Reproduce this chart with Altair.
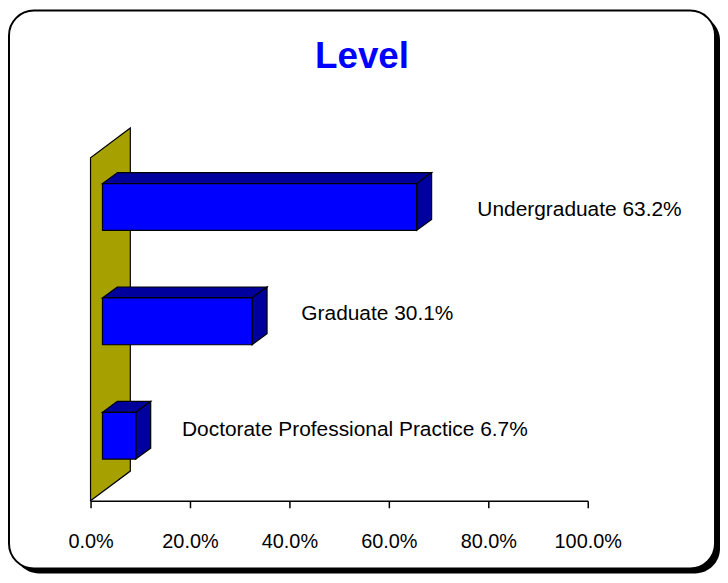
import altair as alt
import pandas as pd

# ---- data ----
categories = ["Undergraduate", "Graduate", "Doctorate Professional Practice"]
values = [63.2, 30.1, 6.7]
tick_values = [0, 20, 40, 60, 80, 100]
title_text = "Level"

# ---- style / 3-D geometry (scale units) ----
BAR_X0 = 2.4      # front face starts this far in front of the wall (in % units)
DEPTH_X = 3.0     # bar depth, horizontal (in % units)
DEPTH_Y = 0.096   # bar depth, vertical (in slot units)
BAR_LO = 0.365
BAR_HI = 0.774
WALL_DX = 8.0
WALL_DY = 0.26
FRONT = "#0000FF"
DARK = "#00009C"
OLIVE = "#A6A100"
FONT = "Liberation Sans"
LABEL_DX = [61, 49.5, 46.5]
LABEL_DY = [1.5, -9, -7.5]

N = len(categories)
slots = [N - 1 - i for i in range(N)]
W, H = 500, 391

xs = alt.Scale(domain=[0, 100], nice=False, zero=False)
ys = alt.Scale(domain=[0, 3.4], nice=False, zero=False)

x_axis = alt.Axis(
    values=tick_values,
    labelExpr="format(datum.value, '.1f') + '%'",
    grid=False, domainColor="black", tickColor="black", tickSize=7,
    domainWidth=1.5, tickWidth=1.5, labelFont=FONT, labelFontSize=20,
    labelColor="black", labelPadding=24, title="", zindex=1,
    labelFlush=False, labelOverlap=False)

front = pd.DataFrame({
    "cat": categories,
    "x": [BAR_X0] * N,
    "x2": [BAR_X0 + v for v in values],
    "y": [s + BAR_LO for s in slots],
    "y2": [s + BAR_HI for s in slots],
})

top_rows, side_rows = [], []
for c, v, s in zip(categories, values, slots):
    top_rows.append({"cat": c, "y": s + BAR_HI, "x": BAR_X0, "x2": BAR_X0 + v})
    top_rows.append({"cat": c, "y": s + BAR_HI + DEPTH_Y, "x": BAR_X0 + DEPTH_X, "x2": BAR_X0 + DEPTH_X + v})
    side_rows.append({"cat": c, "x": BAR_X0 + v, "y": s + BAR_LO, "y2": s + BAR_HI})
    side_rows.append({"cat": c, "x": BAR_X0 + v + DEPTH_X, "y": s + BAR_LO + DEPTH_Y, "y2": s + BAR_HI + DEPTH_Y})
top = pd.DataFrame(top_rows)
side = pd.DataFrame(side_rows)

wall = pd.DataFrame({"x": [0, WALL_DX], "y": [0, WALL_DY], "y2": [N, N + WALL_DY]})

labels = pd.DataFrame({
    "cat": categories,
    "label": [f"{c} {v:.1f}%" for c, v in zip(categories, values)],
    "x": [BAR_X0 + v for v in values],
    "y": [s + 0.5 for s in slots],
})

one = pd.DataFrame({"k": [0]})

shadow = alt.Chart(one).mark_rect(color="black", cornerRadius=25).encode(
    x=alt.value(-77), x2=alt.value(633), y=alt.value(-97), y2=alt.value(464))
frame = alt.Chart(one).mark_rect(fill="white", stroke="black", strokeWidth=2, cornerRadius=25).encode(
    x=alt.value(-82), x2=alt.value(628), y=alt.value(-102), y2=alt.value(459))

wall_layer = alt.Chart(wall).mark_area(orient="vertical", color=OLIVE, stroke="black", strokeWidth=1.2).encode(
    x=alt.X("x:Q", scale=xs, axis=x_axis),
    y=alt.Y("y:Q", scale=ys, axis=None),
    y2="y2:Q",
)

top_layer = alt.Chart(top).mark_area(orient="horizontal", color=DARK, stroke="black", strokeWidth=1.2).encode(
    y=alt.Y("y:Q", scale=ys, axis=None),
    x=alt.X("x:Q", scale=xs),
    x2="x2:Q",
    detail="cat:N",
)

side_layer = alt.Chart(side).mark_area(orient="vertical", color=DARK, stroke="black", strokeWidth=1.2).encode(
    x=alt.X("x:Q", scale=xs),
    y=alt.Y("y:Q", scale=ys, axis=None),
    y2="y2:Q",
    detail="cat:N",
)

front_layer = alt.Chart(front).mark_rect(color=FRONT, stroke="black", strokeWidth=1.2).encode(
    x=alt.X("x:Q", scale=xs),
    x2="x2:Q",
    y=alt.Y("y:Q", scale=ys, axis=None),
    y2="y2:Q",
)

label_layers = []
for c, dx, dy in zip(categories, LABEL_DX, LABEL_DY):
    label_layers.append(
        alt.Chart(labels).transform_filter(alt.datum.cat == c).mark_text(
            align="left", baseline="alphabetic", font=FONT, fontSize=21,
            color="black", dx=dx, dy=dy).encode(
            x=alt.X("x:Q", scale=xs),
            y=alt.Y("y:Q", scale=ys, axis=None),
            text="label:N")
    )

title_layer = alt.Chart(one).mark_text(
    text=title_text, font=FONT, fontSize=37, fontWeight="bold", color=FRONT,
    align="center", baseline="alphabetic").encode(x=alt.value(273), y=alt.value(-44))

chart = alt.layer(
    shadow, frame, wall_layer, top_layer, side_layer, front_layer, *label_layers, title_layer
).properties(
    width=W, height=H,
    autosize=alt.AutoSizeParams(type="none"),
    padding={"left": 83, "top": 103, "right": 133, "bottom": 73},
    background="white",
).configure_view(strokeWidth=0)

chart.save("out.html", embed_options={"renderer": "svg", "actions": False})
